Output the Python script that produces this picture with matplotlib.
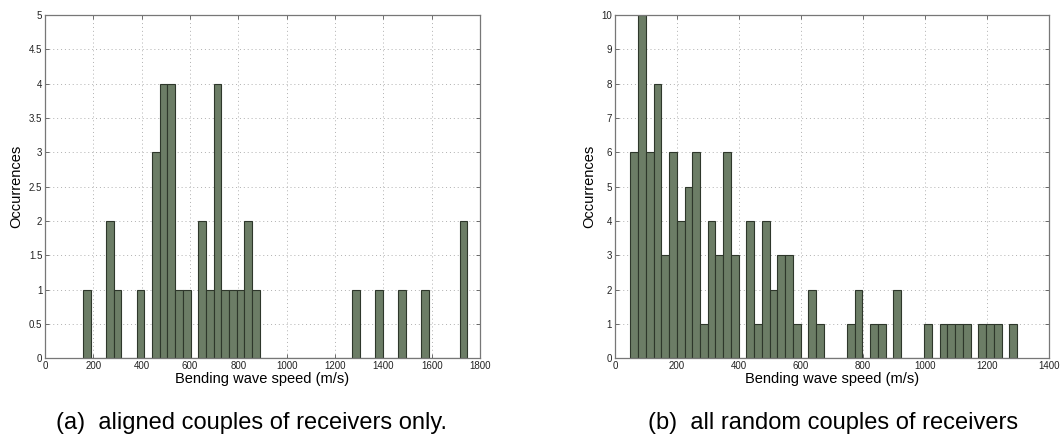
"""Two histograms of bending wave speed (aligned vs random receiver couples)."""

import numpy as np
import matplotlib
matplotlib.use("Agg")
import matplotlib.pyplot as plt

plt.rcParams["font.family"] = ["Liberation Sans", "DejaVu Sans"]

# (a) aligned couples of receivers only: 50 bins between these speeds
aligned_range = (157, 1747)
aligned_counts = [
    1, 0, 0, 2, 1, 0, 0, 1, 0, 3,
    4, 4, 1, 1, 0, 2, 1, 4, 1, 1,
    1, 2, 1, 0, 0, 0, 0, 0, 0, 0,
    0, 0, 0, 0, 0, 1, 0, 0, 1, 0,
    0, 1, 0, 0, 1, 0, 0, 0, 0, 2,
]

# (b) all random couples of receivers: 50 bins between these speeds
random_range = (50, 1297)
random_counts = [
    6, 10, 6, 8, 3, 6, 4, 5, 6, 1,
    4, 3, 6, 3, 0, 4, 1, 4, 2, 3,
    3, 1, 0, 2, 1, 0, 0, 0, 1, 2,
    0, 1, 1, 0, 2, 0, 0, 0, 1, 0,
    1, 1, 1, 1, 0, 1, 1, 1, 0, 1,
]

BAR_FACE = "#6c7d66"
BAR_EDGE = "#2e372b"


def draw_hist(ax, rng, counts, xmax, ymax, yticks):
    edges = np.linspace(rng[0], rng[1], len(counts) + 1)
    ax.bar(edges[:-1], counts, width=np.diff(edges), align="edge",
           color=BAR_FACE, edgecolor=BAR_EDGE, linewidth=0.8, zorder=2)
    ax.set_xlim(0, xmax)
    ax.set_ylim(0, ymax)
    ax.set_xticks(np.arange(0, xmax + 1, 200))
    ax.set_yticks(yticks)
    ax.set_yticklabels([f"{t:g}" for t in yticks])
    ax.grid(True, linestyle=(0, (1, 3)), color="#b0b0b0", linewidth=0.7, zorder=0)
    ax.tick_params(direction="in", length=3, width=0.6, top=True, right=True,
                   labelsize=7, pad=2, colors="#555555", labelcolor="#222222")
    for s in ax.spines.values():
        s.set_color("#777777")
        s.set_linewidth(0.9)
    ax.set_xlabel("Bending wave speed (m/s)", fontsize=10.5, labelpad=1)
    ax.set_ylabel("Occurrences", fontsize=10.5, labelpad=4)


fig = plt.figure(figsize=(10.61, 4.46), dpi=100)
ax1 = fig.add_axes([0.0424, 0.197, 0.410, 0.769])
ax2 = fig.add_axes([0.5796, 0.197, 0.409, 0.769])

draw_hist(ax1, aligned_range, aligned_counts, 1800, 5, np.arange(0, 5.01, 0.5))
draw_hist(ax2, random_range, random_counts, 1400, 10, np.arange(0, 11, 1))

# sub-figure captions
fig.text(0.2375, 0.052, "(a)  aligned couples of receivers only.",
         ha="center", va="center", fontsize=17)
fig.text(0.785, 0.052, "(b)  all random couples of receivers",
         ha="center", va="center", fontsize=17)

fig.savefig("out.png", dpi=100)
